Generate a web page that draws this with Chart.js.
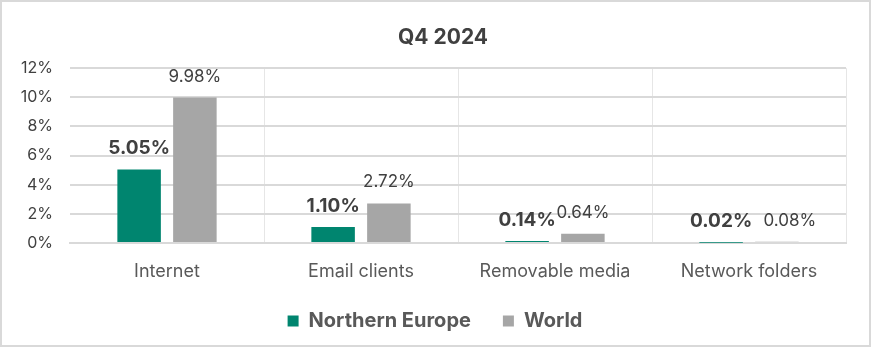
<!DOCTYPE html>
<html>
<head>
<meta charset="utf-8">
<script src="https://cdn.jsdelivr.net/npm/chart.js@4.4.1/dist/chart.umd.min.js"></script>
<style>
  html, body { margin: 0; padding: 0; background: #ffffff; }
  #wrap { width: 871px; height: 347px; position: relative; }
  canvas { display: block; }
</style>
</head>
<body>
<div id="wrap"><canvas id="chart" width="871" height="347"></canvas></div>
<script>
// Infection sources, share of users attacked, Q4 2024
const categories = ['Internet', 'Email clients', 'Removable media', 'Network folders'];
const northernEurope = [5.05, 1.10, 0.14, 0.02];
const world = [9.98, 2.72, 0.64, 0.08];
const yTicks = [0, 2, 4, 6, 8, 10, 12];

const FONT = 'Inter, "Open Sans", sans-serif';
const TEXT = '#404040';

// White background with a thin grey frame
const framePlugin = {
  id: 'frame',
  beforeDraw(chart) {
    const { ctx, width, height } = chart;
    ctx.save();
    ctx.fillStyle = '#ffffff';
    ctx.fillRect(0, 0, width, height);
    ctx.strokeStyle = '#d9d9d9';
    ctx.lineWidth = 2;
    ctx.strokeRect(1, 1, width - 2, height - 2);
    ctx.restore();
  }
};

// Centre the title and legend on the page rather than on the plot box
const centreBlocks = {
  id: 'centreBlocks',
  afterLayout(chart) {
    const shift = (box, dx) => { if (box) { box.left += dx; box.right += dx; } };
    shift(chart.titleBlock, 20);
    shift(chart.legend, 12);
  }
};

// Value labels above each bar; the last World label is nudged clear of its neighbour
const worldLabelShift = [0, 0, 0, 13];
const valueLabels = {
  id: 'valueLabels',
  afterDatasetsDraw(chart) {
    const { ctx } = chart;
    ctx.save();
    ctx.textAlign = 'center';
    ctx.textBaseline = 'middle';
    ctx.fillStyle = TEXT;
    chart.data.datasets.forEach((ds, di) => {
      const meta = chart.getDatasetMeta(di);
      ctx.font = di === 0 ? `bold 19px ${FONT}` : `17px ${FONT}`;
      meta.data.forEach((bar, i) => {
        const dx = di === 1 ? worldLabelShift[i] : 0;
        ctx.fillText(ds.data[i].toFixed(2) + '%', bar.x + dx, bar.y - 21);
      });
    });
    ctx.restore();
  }
};

new Chart(document.getElementById('chart'), {
  type: 'bar',
  data: {
    labels: categories,
    datasets: [
      { label: 'Northern Europe', data: northernEurope, backgroundColor: '#00856f' },
      { label: 'World', data: world, backgroundColor: '#a6a6a6' }
    ]
  },
  plugins: [framePlugin, centreBlocks, valueLabels],
  options: {
    responsive: false,
    animation: false,
    categoryPercentage: 0.575,
    barPercentage: 0.78,
    layout: { padding: { left: 0, right: 25, top: 0, bottom: 6 } },
    plugins: {
      tooltip: { enabled: false },
      title: {
        display: true,
        text: 'Q4 2024',
        color: TEXT,
        font: { family: FONT, size: 21, weight: 'bold', lineHeight: 1.2 },
        padding: { top: 25, bottom: 18 }
      },
      legend: {
        position: 'bottom',
        labels: {
          color: '#595959',
          font: { family: FONT, size: 20, weight: 'bold' },
          boxWidth: 11,
          boxHeight: 11,
          padding: 32
        }
      }
    },
    scales: {
      x: {
        grid: {
          offset: true,
          drawTicks: false,
          lineWidth: 1,
          color: (c) => (c.index === 0 ? 'rgba(0,0,0,0)' : '#e6e6e6')
        },
        border: { display: true, color: '#d9d9d9', width: 2 },
        ticks: { color: '#595959', font: { family: FONT, size: 18 }, padding: 18 },
        afterFit(scale) { scale.height = 36; }
      },
      y: {
        min: 0,
        max: 12,
        afterBuildTicks(scale) { scale.ticks = yTicks.map(v => ({ value: v })); },
        grid: { drawTicks: false, color: '#d9d9d9', lineWidth: 2 },
        border: { display: false },
        ticks: {
          color: TEXT,
          font: { family: FONT, size: 16 },
          padding: 17,
          callback: (v) => v + '%'
        },
        afterFit(scale) { scale.width = 70; }
      }
    }
  }
});
</script>
</body>
</html>
